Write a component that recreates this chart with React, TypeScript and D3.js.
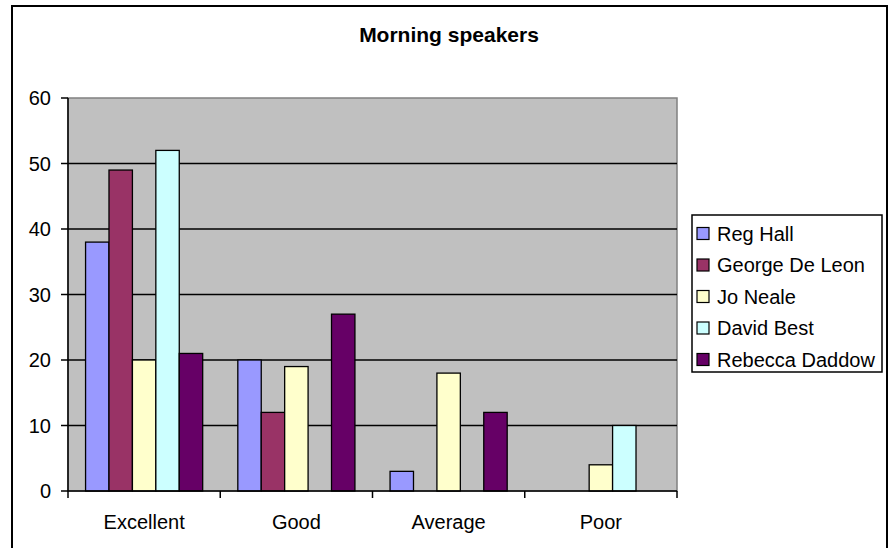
import React from "react";
import * as d3 from "d3";

const categories = ["Excellent", "Good", "Average", "Poor"];
const seriesNames = ["Reg Hall", "George De Leon", "Jo Neale", "David Best", "Rebecca Daddow"];
const seriesColors = ["#9999FF", "#993366", "#FFFFCC", "#CCFFFF", "#660066"];
const regHall = [38, 20, 3, 0];
const georgeDeLeon = [49, 12, 0, 0];
const joNeale = [20, 19, 18, 4];
const davidBest = [52, 0, 0, 10];
const rebeccaDaddow = [21, 27, 12, 0];
const seriesValues = [regHall, georgeDeLeon, joNeale, davidBest, rebeccaDaddow];
const yTicks = [0, 10, 20, 30, 40, 50, 60];
const title = "Morning speakers";

export default function App() {
  const W = 893, H = 548;
  const left = 68, right = 677, top = 98, bottom = 491;
  const font = "Arial, 'Liberation Sans', sans-serif";

  const x0 = d3.scaleBand<string>().domain(categories).range([left, right]).paddingInner(0).paddingOuter(0);
  const bw = x0.bandwidth();
  const barW = bw / (seriesNames.length + 1.5);
  const x1 = d3.scaleBand<string>().domain(seriesNames).range([0.75 * barW, 0.75 * barW + barW * seriesNames.length]);
  const y = d3.scaleLinear().domain([0, 60]).range([bottom, top]);

  const legendX = 692, legendY = 215, legendW = 190, legendH = 157;
  const rowY = (i: number) => 233.5 + i * 31.5;

  return (
    <svg width={W} height={H} style={{ position: "absolute", left: 0, top: 0 }} fontFamily={font}>
      <rect x={0} y={0} width={W} height={H} fill="#fff" />
      <rect x={12} y={6} width={875} height={560} fill="#fff" stroke="#000" strokeWidth={2} />
      <text x={449} y={42} textAnchor="middle" fontWeight="bold" fontSize={21}>{title}</text>

      <rect x={left} y={top} width={right - left} height={bottom - top} fill="#C0C0C0" stroke="#808080" strokeWidth={1.5} />
      {yTicks.filter(t => t > 0 && t < 60).map(t => (
        <line key={"g" + t} x1={left} x2={right} y1={y(t)} y2={y(t)} stroke="#000" strokeWidth={1.5} />
      ))}

      {categories.map((c, ci) =>
        seriesNames.map((s, si) => {
          const v = seriesValues[si][ci];
          if (!v) return null;
          const bx = (x0(c) as number) + (x1(s) as number);
          return (
            <rect key={c + s} x={bx} y={y(v)} width={x1.bandwidth()} height={y(0) - y(v)}
              fill={seriesColors[si]} stroke="#000" strokeWidth={1.3} />
          );
        })
      )}

      <line x1={left} x2={left} y1={top} y2={bottom} stroke="#000" strokeWidth={1.5} />
      <line x1={left} x2={right} y1={bottom} y2={bottom} stroke="#000" strokeWidth={1.5} />
      {yTicks.map(t => (
        <g key={"t" + t}>
          <line x1={left - 7} x2={left} y1={y(t)} y2={y(t)} stroke="#000" strokeWidth={1.5} />
          <text x={51} y={y(t)} dy="0.36em" textAnchor="end" fontSize={20}>{t}</text>
        </g>
      ))}
      {d3.range(categories.length + 1).map(i => (
        <line key={"xt" + i} x1={left + i * bw} x2={left + i * bw} y1={bottom} y2={bottom + 7} stroke="#000" strokeWidth={1.5} />
      ))}
      {categories.map(c => (
        <text key={"xl" + c} x={(x0(c) as number) + bw / 2} y={529} textAnchor="middle" fontSize={20}>{c}</text>
      ))}

      <rect x={legendX} y={legendY} width={legendW} height={legendH} fill="#fff" stroke="#000" strokeWidth={1.5} />
      {seriesNames.map((s, i) => (
        <g key={"lg" + s}>
          <rect x={697} y={rowY(i) - 6} width={12} height={12} fill={seriesColors[i]} stroke="#000" strokeWidth={1.2} />
          <text x={717} y={rowY(i)} dy="0.36em" fontSize={20}>{s}</text>
        </g>
      ))}
    </svg>
  );
}
